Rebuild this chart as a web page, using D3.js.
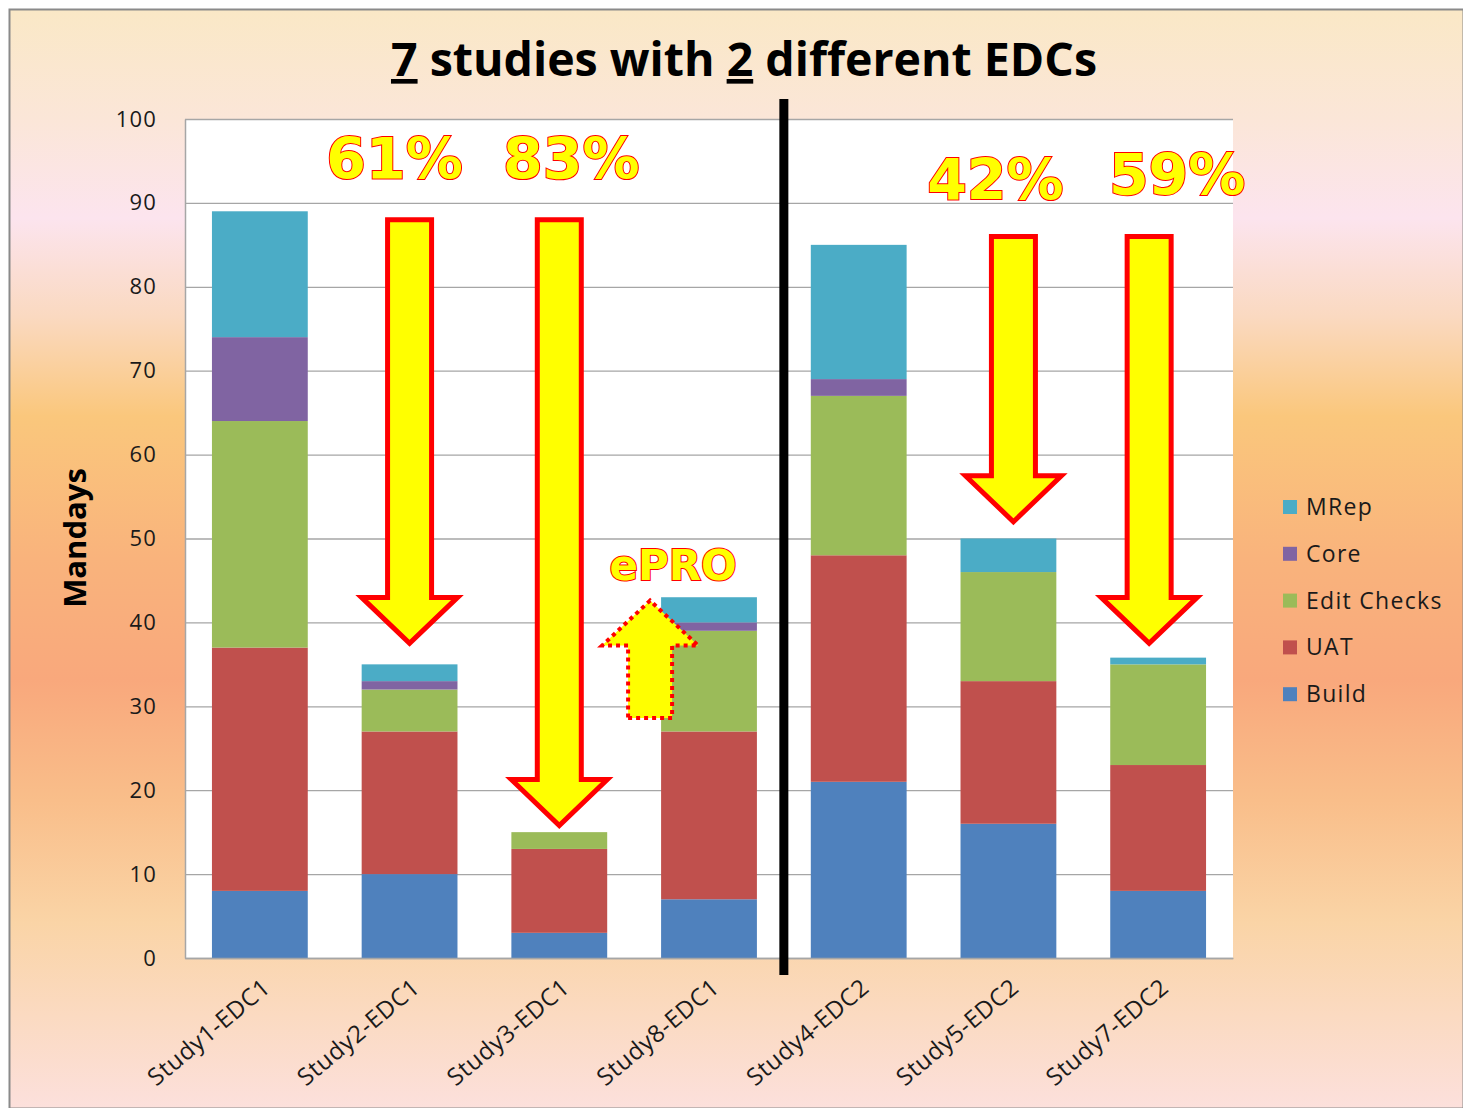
<!DOCTYPE html>
<html><head><meta charset="utf-8">
<script src="https://cdn.jsdelivr.net/npm/d3@7"></script>
<style>body{margin:0;background:#fff;}svg{display:block;}</style>
</head><body>
<svg id="c" width="1463" height="1108"></svg>
<script>
const categories = ["Study1-EDC1","Study2-EDC1","Study3-EDC1","Study8-EDC1","Study4-EDC2","Study5-EDC2","Study7-EDC2"];
const seriesNames = ["Build","UAT","Edit Checks","Core","MRep"];
const build      = [8, 10, 3, 7, 21, 16, 8];
const uat        = [29, 17, 10, 20, 27, 17, 15];
const editChecks = [27, 5, 2, 12, 19, 13, 12];
const core       = [10, 1, 0, 1, 2, 0, 0];
const mrep       = [15, 2, 0, 3, 16, 4, 0.8];
const colors = ["#4F81BD","#C0504D","#9BBB59","#8064A2","#4BACC6"];
const yTicks = [0,10,20,30,40,50,60,70,80,90,100];
// reduction annotations
const reductions = [
  {cat:"Study2-EDC1", label:"61%", top:88, tip:37.5, lx:-15, ly:92.8},
  {cat:"Study3-EDC1", label:"83%", top:88, tip:15.8, lx:12, ly:92.8},
  {cat:"Study5-EDC2", label:"42%", top:86, tip:52, lx:-18, ly:90.4},
  {cat:"Study7-EDC2", label:"59%", top:86, tip:37.5, lx:28, ly:91},
];
const epro = {cat:"Study8-EDC1", label:"ePRO", bottom:28.6, tip:42.6};

const svg = d3.select("#c");
const W = 1463, H = 1108;
const defs = svg.append("defs");
const g = defs.append("linearGradient").attr("id","bg").attr("x1",0).attr("y1",0).attr("x2",0).attr("y2",1);
[[0,"#FAE8C6"],[0.1,"#FBE6D8"],[0.19,"#FCE4EE"],[0.28,"#FAD9C0"],[0.37,"#FAC77C"],[0.5,"#F9B37C"],[0.61,"#F9A87C"],[0.72,"#F9BE8A"],[0.83,"#FAD4A6"],[1,"#FCE0DC"]]
  .forEach(([o,c])=>g.append("stop").attr("offset",o).attr("stop-color",c));
svg.append("rect").attr("x",9.5).attr("y",9.5).attr("width",W-9).attr("height",H-9)
  .attr("fill","url(#bg)").attr("stroke","#8a8a8a").attr("stroke-width",2);

const L=185, R=1233, T=119, B=958;
const x = d3.scaleBand().domain(categories).range([L,R]).paddingInner(0.36).paddingOuter(0.18);
const y = d3.scaleLinear().domain([0,100]).range([B,T]);

svg.append("rect").attr("x",L).attr("y",T).attr("width",R-L).attr("height",B-T).attr("fill","#fff");
svg.append("g").selectAll("line").data(yTicks).join("line")
  .attr("x1",L).attr("x2",R).attr("y1",d=>y(d)+0.5).attr("y2",d=>y(d)+0.5)
  .attr("stroke","#a6a6a6").attr("stroke-width",1.3);

const rows = categories.map((c,i)=>({cat:c,"Build":build[i],"UAT":uat[i],"Edit Checks":editChecks[i],"Core":core[i],"MRep":mrep[i]}));
const stack = d3.stack().keys(seriesNames)(rows);
svg.append("g").selectAll("g").data(stack).join("g").attr("fill",(d,i)=>colors[i])
  .selectAll("rect").data(d=>d).join("rect")
  .attr("x",d=>x(d.data.cat)).attr("width",x.bandwidth())
  .attr("y",d=>y(d[1])).attr("height",d=>Math.max(0,y(d[0])-y(d[1])));

const FONT = "'Open Sans','Noto Sans',sans-serif";
const yAxis = d3.axisLeft(y).tickValues(yTicks).tickSize(0).tickPadding(28);
const ya = svg.append("g").attr("transform",`translate(${L},0)`).call(yAxis);
ya.select(".domain").attr("stroke","#a6a6a6").attr("stroke-width",1.5);
ya.selectAll("text").attr("font-family",FONT).attr("font-size",22).attr("letter-spacing",1.2).attr("fill","#1a1a1a");
const xAxis = d3.axisBottom(x).tickSize(0).tickPadding(0);
const xa = svg.append("g").attr("transform",`translate(0,${B})`).call(xAxis);
xa.select(".domain").attr("stroke","#a6a6a6").attr("stroke-width",1.5);
xa.selectAll("text").attr("font-family",FONT).attr("font-size",24).attr("letter-spacing",0.6).attr("fill","#1a1a1a")
  .attr("text-anchor","end").attr("dy",0).attr("transform","translate(12,32) rotate(-40)");

svg.append("text").attr("transform","translate(86,538) rotate(-90)").attr("text-anchor","middle")
  .attr("font-family","'Open Sans','Liberation Sans',sans-serif").attr("font-weight","bold").attr("font-size",31)
  .attr("fill","#000").text("Mandays");

const title = svg.append("text").attr("x",744).attr("y",76).attr("text-anchor","middle")
  .attr("font-family","'Open Sans','Liberation Sans',sans-serif").attr("font-weight","bold").attr("font-size",46.5).attr("fill","#000");
title.append("tspan").attr("text-decoration","underline").text("7");
title.append("tspan").text(" studies with ");
title.append("tspan").attr("text-decoration","underline").text("2");
title.append("tspan").text(" different EDCs");

svg.append("rect").attr("x",(x("Study8-EDC1")+x.bandwidth()+x("Study4-EDC2"))/2-4.5).attr("y",99).attr("width",9).attr("height",876).attr("fill","#000");

const lg = svg.append("g");
const legendOrder = seriesNames.slice().reverse();
legendOrder.forEach((n,i)=>{
  const cy = 507 + i*46.8;
  lg.append("rect").attr("x",1283).attr("y",cy-7).attr("width",14).attr("height",14).attr("fill",colors[seriesNames.indexOf(n)]);
  lg.append("text").attr("x",1306).attr("y",cy+8).attr("font-family",FONT).attr("font-size",23).attr("letter-spacing",1.3).attr("fill","#1a1a1a").text(n);
});

function downArrow(cx, yTop, yTip){
  const sw=22, hw=48, hh=46;
  const yHead = yTip-hh;
  return `M${cx-sw},${yTop} L${cx+sw},${yTop} L${cx+sw},${yHead} L${cx+hw},${yHead} L${cx},${yTip} L${cx-hw},${yHead} L${cx-sw},${yHead} Z`;
}
const arrowX = {"Study2-EDC1":0,"Study3-EDC1":0,"Study5-EDC2":5,"Study7-EDC2":-9};
reductions.forEach(r=>{
  const cx = x(r.cat)+x.bandwidth()/2 + arrowX[r.cat];
  svg.append("path").attr("d",downArrow(cx,y(r.top),y(r.tip))).attr("fill","#FFFF00").attr("stroke","#FF0000").attr("stroke-width",5).attr("stroke-linejoin","miter");
  svg.append("text").attr("x",cx+r.lx).attr("y",y(r.ly)).attr("text-anchor","middle")
    .attr("font-family","'DejaVu Sans',Verdana,sans-serif").attr("font-weight","bold").attr("font-size",57)
    .attr("fill","#FFFF00").attr("stroke","#FF0000").attr("stroke-width",2).attr("paint-order","stroke").text(r.label);
});
{
  const cx = x(epro.cat)-11;
  const yb = y(epro.bottom), yt = y(epro.tip);
  const sw=22, hw=48, hh=45;
  const yh = yt+hh;
  svg.append("path").attr("d",`M${cx-sw},${yb} L${cx+sw},${yb} L${cx+sw},${yh} L${cx+hw},${yh} L${cx},${yt} L${cx-hw},${yh} L${cx-sw},${yh} Z`)
    .attr("fill","#FFFF00").attr("stroke","#FF0000").attr("stroke-width",4).attr("stroke-dasharray","4,4");
  svg.append("text").attr("x",cx+23).attr("y",580).attr("text-anchor","middle")
    .attr("font-family","'DejaVu Sans',Verdana,sans-serif").attr("font-weight","bold").attr("font-size",42)
    .attr("fill","#FFFF00").attr("stroke","#FF0000").attr("stroke-width",2).attr("paint-order","stroke").text(epro.label);
}
</script>
</body></html>
